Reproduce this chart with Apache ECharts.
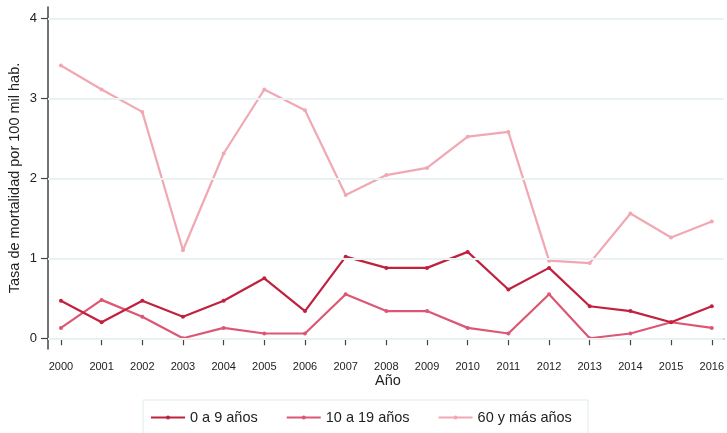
<!DOCTYPE html>
<html><head><meta charset="utf-8">
<script src="https://cdn.jsdelivr.net/npm/echarts@6/dist/echarts.min.js"></script>
<style>html,body{margin:0;padding:0;background:#fff}#c{width:727px;height:433px}</style>
</head><body><div id="c"></div>
<script>
var years = [2000,2001,2002,2003,2004,2005,2006,2007,2008,2009,2010,2011,2012,2013,2014,2015,2016];
var s0a9 = [0.47,0.20,0.47,0.27,0.47,0.75,0.34,1.02,0.88,0.88,1.08,0.61,0.88,0.40,0.34,0.20,0.40];
var s10a19 = [0.13,0.48,0.27,0.00,0.13,0.06,0.06,0.55,0.34,0.34,0.13,0.06,0.55,0.00,0.06,0.20,0.13];
var s60 = [3.41,3.11,2.83,1.10,2.31,3.11,2.85,1.79,2.04,2.13,2.52,2.58,0.97,0.94,1.56,1.26,1.46];
var yTicks = [0,1,2,3,4];
var names = ['0 a 9 años','10 a 19 años','60 y más años'];
var colors = ['#c0213f','#dc5774','#f0a8b3'];

function pairs(v){ return years.map(function(y,i){ return [y, v[i]]; }); }
var font = 'Liberation Sans, Arial, sans-serif';
var chart = echarts.init(document.getElementById('c'));
var mk = function(i, d){
  return {
    name: names[i], type: 'line', data: pairs(d),
    symbol: 'circle', symbolSize: 4, showSymbol: true,
    lineStyle: {color: colors[i], width: 2.2},
    itemStyle: {color: colors[i]},
    z: 3 - i,
    animation: false
  };
};
chart.setOption({
  animation: false,
  textStyle: {fontFamily: font},
  grid: {left: 48, right: 0, top: 7, bottom: 84},
  xAxis: {
    type: 'value', min: 1999.682, max: 2016.294,
    axisLine: {show: true, lineStyle: {color: '#444', width: 1.5}},
    axisTick: {show: true, length: 7, customValues: years, lineStyle: {color: '#444', width: 1.2}},
    axisLabel: {customValues: years, fontSize: 11, color: '#222', margin: 12, fontFamily: font,
      formatter: function(v){ return String(Math.round(v)); }},
    splitLine: {show: false}
  },
  yAxis: {
    type: 'value', min: -0.134, max: 4.141,
    axisLine: {show: true, lineStyle: {color: '#444', width: 1.5}},
    axisTick: {show: true, length: 7, customValues: yTicks, lineStyle: {color: '#444', width: 1.2}},
    axisLabel: {customValues: yTicks, fontSize: 13, color: '#222', margin: 11, fontFamily: font,
      formatter: function(v){ return String(Math.round(v)); }},
    splitLine: {show: false}
  },
  legend: {
    data: names, left: 150, top: 410, padding: 0, itemWidth: 34, itemHeight: 5, itemGap: 28,
    textStyle: {fontSize: 14.5, color: '#222', fontFamily: font}
  },
  graphic: [
    {type: 'rect', shape: {x: 143, y: 400, width: 445, height: 45}, style: {fill: '#fff', stroke: '#dfe9ee', lineWidth: 1}, z: -1},
    {type: 'text', x: 388, y: 381, style: {text: 'Año', font: '14.5px ' + font, fill: '#222', textAlign: 'center', textVerticalAlign: 'middle'}},
    {type: 'text', x: 15, y: 178, rotation: Math.PI/2, style: {text: 'Tasa de mortalidad por 100 mil hab.', font: '14.5px ' + font, fill: '#222', textAlign: 'center', textVerticalAlign: 'middle'}}
  ],
  series: [
    {type: 'line', data: yTicks.map(function(t){return [1999.682, t];}), silent: true, showSymbol: false, lineStyle: {width: 0}, 
     markLine: {silent: true, symbol: 'none', label: {show: false}, lineStyle: {color: '#e9f1f3', width: 2, type: 'solid'},
       data: yTicks.map(function(t){ return {yAxis: t}; })}, z: 0},
    mk(0, s0a9), mk(1, s10a19), mk(2, s60)
  ]
});
</script></body></html>
